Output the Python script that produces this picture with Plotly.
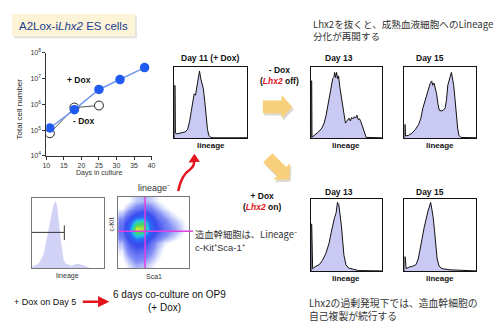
import math
import plotly.graph_objects as go

W, H = 500, 334

# ---------------- data ----------------
days_plus = [11, 18, 25, 31, 38]
cells_plus = [1.2e5, 6.2e5, 3.8e6, 9.2e6, 2.7e7]
days_minus = [11, 18, 25]
cells_minus = [7.5e4, 7.5e5, 9.0e5]
ytick_vals = [1e4, 1e5, 1e6, 1e7, 1e8]
ytick_text = ["10<sup>4</sup>", "10<sup>5</sup>", "10<sup>6</sup>", "10<sup>7</sup>", "10<sup>8</sup>"]
xtick_vals = [10, 15, 20, 25, 30, 35, 40]

d11_x = [0, 0, 0.012, 0.016, 0.037, 0.105, 0.15, 0.183, 0.21, 0.233, 0.256, 0.274, 0.292, 0.31, 0.333,
         0.347, 0.365, 0.384, 0.40, 0.42, 0.438, 0.457, 0.475, 0.50, 0.54, 1.0]
d11_y = [0, 0.735, 0.735, 0.07, 0.06, 0.073, 0.087, 0.12, 0.23, 0.37, 0.51, 0.62, 0.60, 0.71, 0.80,
         0.94, 0.83, 0.76, 0.69, 0.51, 0.28, 0.12, 0.04, 0.01, 0.005, 0.005]

t13_x = [0, 0, 0.01, 0.014, 0.06, 0.106, 0.153, 0.185, 0.213, 0.231, 0.25, 0.269, 0.287, 0.306, 0.324,
         0.333, 0.347, 0.361, 0.375, 0.389, 0.407, 0.426, 0.444, 0.458, 0.472, 0.486, 0.5, 0.519, 0.537,
         0.556, 0.574, 0.593, 0.611, 0.63, 0.648, 0.667, 0.685, 0.704, 0.731, 0.759, 0.778, 1.0]
t13_y = [0, 0.80, 0.80, 0.014, 0.05, 0.087, 0.14, 0.21, 0.32, 0.415, 0.55, 0.67, 0.76, 0.83, 0.85,
         0.92, 0.85, 0.92, 0.83, 0.87, 0.71, 0.60, 0.46, 0.37, 0.28, 0.21, 0.23, 0.26, 0.28,
         0.24, 0.29, 0.27, 0.30, 0.28, 0.32, 0.26, 0.27, 0.23, 0.14, 0.04, 0.01, 0.005]

t15_x = [0, 0, 0.01, 0.014, 0.059, 0.105, 0.151, 0.196, 0.228, 0.256, 0.283, 0.31, 0.333, 0.356, 0.379,
         0.393, 0.411, 0.429, 0.447, 0.466, 0.484, 0.511, 0.539, 0.566, 0.584, 0.603, 0.621, 0.639,
         0.653, 0.667, 0.685, 0.703, 0.721, 0.74, 0.758, 0.785, 1.0]
t15_y = [0, 0.19, 0.19, 0.03, 0.04, 0.07, 0.12, 0.19, 0.28, 0.42, 0.51, 0.62, 0.69, 0.76, 0.80,
         0.74, 0.77, 0.71, 0.62, 0.48, 0.39, 0.38, 0.39, 0.42, 0.53, 0.74, 0.83, 0.87,
         0.92, 0.85, 0.74, 0.55, 0.32, 0.14, 0.04, 0.01, 0.005]

b13_x = [0, 0, 0.01, 0.023, 0.069, 0.115, 0.161, 0.207, 0.253, 0.286, 0.309, 0.332, 0.355, 0.373,
         0.392, 0.41, 0.429, 0.447, 0.465, 0.493, 0.53, 0.6, 0.668, 1.0]
b13_y = [0, 0.65, 0.65, 0.036, 0.07, 0.09, 0.15, 0.24, 0.38, 0.54, 0.65, 0.74, 0.81, 0.95,
         0.92, 0.79, 0.63, 0.42, 0.22, 0.09, 0.045, 0.027, 0.01, 0.005]

b15_x = [0, 0, 0.01, 0.023, 0.068, 0.114, 0.159, 0.191, 0.218, 0.245, 0.273, 0.3, 0.327, 0.35, 0.364,
         0.382, 0.4, 0.418, 0.436, 0.455, 0.482, 0.523, 0.636, 0.818, 1.0]
b15_y = [0, 0.2, 0.2, 0.036, 0.06, 0.07, 0.09, 0.17, 0.29, 0.45, 0.6, 0.74, 0.83, 0.9, 0.95,
         0.85, 0.74, 0.56, 0.35, 0.17, 0.07, 0.036, 0.02, 0.01, 0.005]

lin_x = [0, 0.05, 0.095, 0.14, 0.171, 0.198, 0.22, 0.243, 0.27, 0.297, 0.32, 0.333, 0.351, 0.369,
         0.387, 0.405, 0.423, 0.441, 0.468, 0.5, 0.545, 0.59, 0.635, 0.68, 0.725, 0.77, 0.815]
lin_y = [0.02, 0.04, 0.07, 0.14, 0.23, 0.37, 0.51, 0.65, 0.79, 0.88, 0.94, 0.95, 0.88, 0.74,
         0.56, 0.37, 0.21, 0.12, 0.07, 0.056, 0.037, 0.056, 0.065, 0.056, 0.037, 0.01, 0]
gate_y = 0.51
gate_x = 0.45

# flow density (rows top -> bottom), columns left -> right
scatter_density = [
    [0.0, 0.3, 0.8, 1.0, 0.8, 0.4, 0.1, 0.0, 0.0, 0.0],
    [0.3, 1.0, 1.8, 2.2, 1.8, 1.0, 0.5, 0.2, 0.0, 0.0],
    [1.0, 2.5, 4.0, 4.5, 3.5, 2.0, 1.2, 0.6, 0.3, 0.1],
    [2.0, 4.5, 7.5, 8.0, 5.0, 3.0, 2.0, 1.2, 0.7, 0.3],
    [2.5, 5.5, 10.0, 9.5, 5.5, 3.5, 2.3, 1.6, 1.0, 0.4],
    [2.0, 4.5, 7.0, 6.5, 4.0, 2.5, 1.6, 1.0, 0.5, 0.2],
    [1.0, 3.0, 4.0, 3.8, 2.5, 1.2, 0.5, 0.2, 0.1, 0.0],
    [0.5, 2.0, 2.8, 2.6, 1.8, 0.8, 0.2, 0.0, 0.0, 0.0],
    [0.3, 1.2, 2.0, 1.8, 1.2, 0.5, 0.1, 0.0, 0.0, 0.0],
    [0.1, 0.6, 1.2, 1.0, 0.6, 0.2, 0.0, 0.0, 0.0, 0.0],
]
kit_gate = 0.53
sca_gate = 0.38

# ---------------- helpers ----------------
def px(x):
    return x / W

def py(y):
    return 1 - y / H

FONT = "Liberation Sans, Arial, sans-serif"
JP = "Noto Sans CJK JP, sans-serif"

fig = go.Figure()
layout = {}

panels = [
    ("growth", 43, 150, 50, 155),
    ("d11", 173, 247, 64, 137),
    ("t13", 312, 384, 64, 137),
    ("t15", 407, 480, 64, 137),
    ("b13", 312, 384, 199, 273),
    ("b15", 407, 480, 199, 273),
    ("lin", 28, 102, 198, 270),
    ("sca", 116, 188, 197, 270),
]
ax = {}
for i, (name, x0, x1, y0, y1) in enumerate(panels):
    n = i + 1
    sfx = "" if n == 1 else str(n)
    ax[name] = ("x" + sfx, "y" + sfx)
    box = dict(showticklabels=False, showgrid=False, zeroline=False, showline=True, mirror=True,
               linecolor="#111", linewidth=1, ticks="", fixedrange=True)
    if name in ("lin", "sca"):
        box["linecolor"] = "#777"
    xa = dict(box, domain=[px(x0), px(x1)], anchor="y" + sfx, range=[0, 1])
    ya = dict(box, domain=[py(y1), py(y0)], anchor="x" + sfx, range=[0, 1])
    layout["xaxis" + sfx] = xa
    layout["yaxis" + sfx] = ya

# growth axes
layout["xaxis"] = dict(domain=[px(43), px(150)], anchor="y", range=[10, 40], tickvals=xtick_vals,
                       showline=True, linecolor="#333", linewidth=1, ticks="outside", ticklen=3,
                       tickcolor="#333", tickfont=dict(size=7, color="#333", family=FONT),
                       showgrid=False, zeroline=False)
layout["yaxis"] = dict(domain=[py(155), py(50)], anchor="x", type="log", range=[4, 8],
                       tickvals=ytick_vals, ticktext=ytick_text, showline=True, linecolor="#333",
                       linewidth=1, ticks="outside", ticklen=3, tickcolor="#333",
                       tickfont=dict(size=7, color="#333", family=FONT), showgrid=False, zeroline=False)

fig.add_trace(go.Scatter(x=days_minus, y=cells_minus, mode="lines+markers", xaxis="x", yaxis="y",
                         line=dict(color="#222", width=0.8),
                         marker=dict(size=9, color="white", line=dict(color="#222", width=1))))
fig.add_trace(go.Scatter(x=days_plus, y=cells_plus, mode="lines+markers", xaxis="x", yaxis="y",
                         line=dict(color="#6f98ee", width=1.5),
                         marker=dict(size=9.5, color="#1f5bf0", line=dict(width=0))))

for name, xs, ys in [("d11", d11_x, d11_y), ("t13", t13_x, t13_y), ("t15", t15_x, t15_y),
                     ("b13", b13_x, b13_y), ("b15", b15_x, b15_y)]:
    xa, ya = ax[name]
    fig.add_trace(go.Scatter(x=xs, y=ys, mode="lines", fill="tozeroy", fillcolor="#c9c9f3",
                             line=dict(color="#111", width=1), xaxis=xa, yaxis=ya))

xa, ya = ax["lin"]
fig.add_trace(go.Scatter(x=lin_x, y=lin_y, mode="lines", fill="tozeroy", fillcolor="#d2d2f6",
                         line=dict(width=0, color="#d2d2f6"), xaxis=xa, yaxis=ya))
fig.add_trace(go.Scatter(x=[0, gate_x], y=[gate_y, gate_y], mode="lines",
                         line=dict(color="#333", width=1), xaxis=xa, yaxis=ya))
fig.add_trace(go.Scatter(x=[gate_x, gate_x], y=[gate_y - 0.11, gate_y + 0.1], mode="lines",
                         line=dict(color="#333", width=1), xaxis=xa, yaxis=ya))

xa, ya = ax["sca"]
ncol = len(scatter_density[0])
nrow = len(scatter_density)
fig.add_trace(go.Heatmap(z=scatter_density[::-1],
                         x=[(j + 0.5) / ncol for j in range(ncol)],
                         y=[(i + 0.5) / nrow for i in range(nrow)],
                         zmin=0, zmax=10, zsmooth="best", showscale=False, xaxis=xa, yaxis=ya,
                         colorscale=[[0, "#ffffff"], [0.03, "#ffffff"], [0.08, "#c4ccfa"],
                                     [0.16, "#7f8cf5"], [0.35, "#3a4cf0"], [0.55, "#2a6cf5"],
                                     [0.7, "#22cce8"], [0.85, "#4ad65a"], [1.0, "#e8e830"]]))
fig.add_trace(go.Scatter(x=[sca_gate, sca_gate], y=[0, 1], mode="lines",
                         line=dict(color="#e040e0", width=1.5), xaxis=xa, yaxis=ya))

shapes = []
# horizontal magenta gate line extends past the plot
shapes.append(dict(type="line", xref="paper", yref="paper", x0=px(116), x1=px(192),
                   y0=py(232), y1=py(232), line=dict(color="#e040e0", width=1.5)))

# title box
shapes.append(dict(type="rect", xref="paper", yref="paper", x0=px(10), x1=px(135), y0=py(35), y1=py(12),
                   fillcolor="rgba(150,140,120,0.25)", line=dict(width=0)))
shapes.append(dict(type="rect", xref="paper", yref="paper", x0=px(8), x1=px(133), y0=py(33), y1=py(10),
                   fillcolor="#fdf4d8", line=dict(width=0)))


def block_arrow(x0, y0, ang, L, sw, hw, hl, dx=0, dy=0):
    c, s = math.cos(math.radians(ang)), math.sin(math.radians(ang))
    loc = [(0, -sw), (L - hl, -sw), (L - hl, -hw), (L, 0), (L - hl, hw), (L - hl, sw), (0, sw)]
    pts = [(x0 + u * c - v * s + dx, y0 + u * s + v * c + dy) for u, v in loc]
    return "M " + " L ".join(f"{px(x):.5f},{py(y):.5f}" for x, y in pts) + " Z"


for (x0, y0, ang, L) in [(263, 105, 0, 30), (268, 157, 45, 31)]:
    shapes.append(dict(type="path", xref="paper", yref="paper",
                       path=block_arrow(x0, y0, ang, L, 6.5, 12, 11, 1.5, 2.5),
                       fillcolor="rgba(120,100,60,0.25)", line=dict(width=0)))
    shapes.append(dict(type="path", xref="paper", yref="paper",
                       path=block_arrow(x0, y0, ang, L, 6.5, 12, 11),
                       fillcolor="#f8cf7a", line=dict(width=0)))

# red curved arrow
def P(x, y):
    return f"{px(x):.5f},{py(y):.5f}"

shapes.append(dict(type="path", xref="paper", yref="paper",
                   path=f"M {P(177,191)} Q {P(180,175)} {P(189,169)} Q {P(194,165)} {P(193,160)}",
                   line=dict(color="#e3141c", width=2.5)))
shapes.append(dict(type="path", xref="paper", yref="paper",
                   path=f"M {P(193.5,153)} L {P(187.5,162)} L {P(199,161)} Z",
                   fillcolor="#e3141c", line=dict(width=0)))

annotations = []


def txt(x, y, text, size=8, bold=False, color="#111", anchor="center", family=FONT, angle=0,
        yanchor="middle"):
    annotations.append(dict(x=px(x), y=py(y), xref="paper", yref="paper", text=text, showarrow=False,
                            xanchor=anchor, yanchor=yanchor, textangle=angle,
                            align=anchor if anchor != "center" else "center",
                            font=dict(size=size, color=color, family=family,
                                      weight="bold" if bold else "normal")))


RED_LHX2 = "<i><span style='color:#e3141c'>Lhx2</span></i>"

txt(71, 22, "A2Lox-i<i>Lhx2</i> ES cells", size=11.5, color="#1a3d92")
txt(76, 78, "+ Dox", size=8.5, bold=True)
txt(81, 119, "- Dox", size=8.5, bold=True)
txt(16, 107, "Total cell number", size=8, angle=-90, color="#222")
txt(97, 173, "Days in culture", size=7, color="#333")

txt(210, 55, "Day 11 (+ Dox)", size=8.5, bold=True)
txt(210, 145, "lineage", size=8, bold=True)
txt(280, 73.5, "- Dox<br>(" + RED_LHX2 + " off)", size=8.5, bold=True)

txt(312, 27, "Lhx2を抜くと、成熟血液細胞へのLineage<br>分化が再開する", size=9.6, anchor="left",
    family=JP, color="#333")

txt(340, 55, "Day 13", size=8.5, bold=True)
txt(433, 55, "Day 15", size=8.5, bold=True)
txt(348, 145, "lineage", size=8, bold=True)
txt(443, 145, "lineage", size=8, bold=True)

txt(340, 192, "Day 13", size=8.5, bold=True)
txt(433, 192, "Day 15", size=8.5, bold=True)
txt(348, 280, "lineage", size=8, bold=True)
txt(443, 280, "lineage", size=8, bold=True)

txt(262, 201.5, "+ Dox<br>(" + RED_LHX2 + " on)", size=8.5, bold=True)

txt(192, 234.5, "造血幹細胞は、Lineage⁻", size=9.3, anchor="left", family=JP, color="#333")
txt(192, 249, "c-Kit⁺Sca-1⁺", size=9.5, anchor="left", family=FONT, color="#333")

txt(152, 188, "lineage⁻", size=9, color="#333")
txt(109, 225, "c-Kit", size=7, angle=-90, color="#333")
txt(152, 278, "Sca1", size=7, color="#333")
txt(65, 278, "lineage", size=7, color="#333")

txt(8, 304, "+ Dox on Day 5", size=9, anchor="left", color="#111")
txt(168, 297, "6 days co-culture on OP9", size=10, color="#111")
txt(163, 310, "(+ Dox)", size=10, color="#111")

txt(308, 312, "Lhx2の過剰発現下では、造血幹細胞の<br>自己複製が続行する", size=9.8, anchor="left",
    family=JP, color="#333")

annotations.append(dict(x=px(107), y=py(304), ax=-28, ay=0, xref="paper", yref="paper",
                        text="", showarrow=True, arrowhead=2,
                        arrowsize=0.9, arrowwidth=2.5, arrowcolor="#e3141c"))

fig.update_layout(**layout)
fig.update_layout(width=W, height=H, margin=dict(l=0, r=0, t=0, b=0), showlegend=False,
                  paper_bgcolor="white", plot_bgcolor="rgba(0,0,0,0)",
                  font=dict(family=FONT), shapes=shapes, annotations=annotations)

fig.write_html("out.html", config={"displayModeBar": False})
